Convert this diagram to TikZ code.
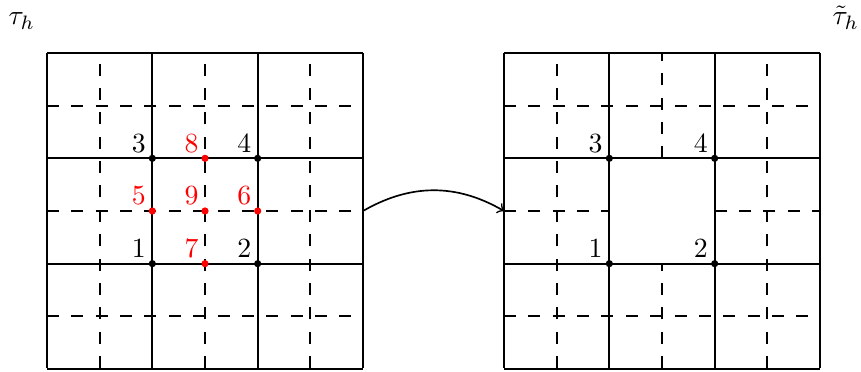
\documentclass[tikz,border=0pt]{standalone}
\begin{document}
\begin{tikzpicture}[x=0.012658cm,y=-0.012658cm,
  gridline/.style={line width=0.72pt},
  dashline/.style={line width=0.72pt, dash pattern=on 4.32pt off 4.46pt},
  dot/.style={circle, fill=#1, inner sep=0pt, minimum size=2.6pt},
  lab/.style={inner sep=0pt, text=#1},
  maparrow/.style={line width=0.6pt, ->}]
\useasboundingbox (0,0) rectangle (861,372);
% ---------- left grid ----------
\foreach \i in {1,3,5} {
  \draw[dashline] ({47+52.667*\i},368) -- ({47+52.667*\i},53);
  \draw[dashline] (47,{53+52.667*\i}) -- (363,{53+52.667*\i});
}
\foreach \i in {0,2,4,6} {
  \draw[gridline] ({47+52.667*\i},368) -- ({47+52.667*\i},53);
  \draw[gridline] (47,{53+52.667*\i}) -- (363,{53+52.667*\i});
}
% ---------- right grid ----------
\foreach \i in {1,5} {
  \draw[dashline] ({504+52.667*\i},368) -- ({504+52.667*\i},53);
  \draw[dashline] (504,{53+52.667*\i}) -- (820,{53+52.667*\i});
}
\draw[dashline] (662,158.33) -- (662,53);
\draw[dashline] (662,368) -- (662,263.67);
\draw[dashline] (504,211) -- (609.33,211);
\draw[dashline] (714.67,211) -- (820,211);
\foreach \i in {0,2,4,6} {
  \draw[gridline] ({504+52.667*\i},368) -- ({504+52.667*\i},53);
  \draw[gridline] (504,{53+52.667*\i}) -- (820,{53+52.667*\i});
}
% ---------- vertices, left ----------
\node[dot=black] (a1) at (152.33,263.67) {};
\node[dot=black] (a2) at (257.67,263.67) {};
\node[dot=black] (a3) at (152.33,158.33) {};
\node[dot=black] (a4) at (257.67,158.33) {};
\node[dot=red] (a5) at (152.33,211) {};
\node[dot=red] (a6) at (257.67,211) {};
\node[dot=red] (a7) at (205,263.67) {};
\node[dot=red] (a8) at (205,158.33) {};
\node[dot=red] (a9) at (205,211) {};
\node[lab=black] (la1) at (138.8,248.7) {1};
\node[lab=black] (la2) at (244.2,248.7) {2};
\node[lab=black] (la3) at (138.8,143.3) {3};
\node[lab=black] (la4) at (244.2,143.3) {4};
\node[lab=red] (la5) at (138.8,195.5) {5};
\node[lab=red] (la6) at (244.2,195.5) {6};
\node[lab=red] (la7) at (191.5,248.7) {7};
\node[lab=red] (la8) at (191.5,143.3) {8};
\node[lab=red] (la9) at (191.5,195.5) {9};
% ---------- vertices, right ----------
\node[dot=black] (b1) at (609.33,263.67) {};
\node[dot=black] (b2) at (714.67,263.67) {};
\node[dot=black] (b3) at (609.33,158.33) {};
\node[dot=black] (b4) at (714.67,158.33) {};
\node[lab=black] (lb1) at (595.5,248.7) {1};
\node[lab=black] (lb2) at (700.8,248.7) {2};
\node[lab=black] (lb3) at (595.5,143.3) {3};
\node[lab=black] (lb4) at (700.8,143.3) {4};
% ---------- titles ----------
\node[anchor=base west, inner sep=0pt] (tl) at (8,25) {$\tau_h$};
\node[anchor=base west, inner sep=0pt] (tr) at (832,25) {$\tilde{\tau}_h$};
% ---------- arrow ----------
\coordinate (from) at (363,211);
\coordinate (to) at (504,211);
\draw[maparrow] (from) to[bend left=30] (to);
\end{tikzpicture}
\end{document}
